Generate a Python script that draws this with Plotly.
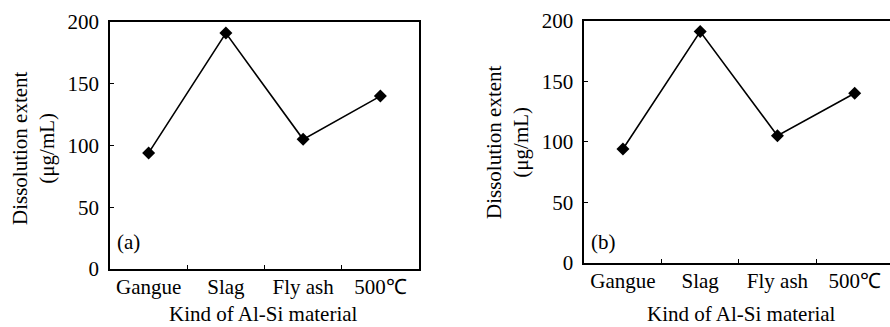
import plotly.graph_objects as go

categories = ["Gangue", "Slag", "Fly ash", "500℃"]
values_a = [94, 191, 105, 140]
values_b = [94, 191, 105, 140]
y_ticks = [0, 50, 100, 150, 200]
x_title = "Kind of Al-Si material"
y_title = "Dissolution extent<br>(μg/mL)"
panel_labels = ["(a)", "(b)"]

W, H = 890, 327
FONT = "Liberation Serif, Times New Roman, serif"
FS = 21

fig = go.Figure()
marker = dict(symbol="diamond", size=10, color="black")
line = dict(color="black", width=1.6)

fig.add_trace(go.Scatter(x=categories, y=values_a, mode="lines+markers",
                         marker=marker, line=line, xaxis="x", yaxis="y", showlegend=False))
fig.add_trace(go.Scatter(x=categories, y=values_b, mode="lines+markers",
                         marker=marker, line=line, xaxis="x2", yaxis="y2", showlegend=False))


def px_x(v):
    return v / W


def px_y(v):
    return 1 - v / H


cat_w = 77.25
right_left = 584.3
right_visible = W - right_left
right_range_max = -0.5 + right_visible / cat_w

font = dict(family=FONT, size=FS, color="black")

common_x = dict(type="category", tickson="boundaries", ticks="inside", ticklen=4,
                tickwidth=1.3, tickcolor="black", showline=True, linecolor="black",
                linewidth=1.8, showgrid=False, zeroline=False, automargin=False,
                tickfont=font, ticklabelstandoff=-2)
common_y = dict(range=[0, 200], tickvals=y_ticks, ticks="inside", ticklen=4, tickwidth=1.3,
                tickcolor="black", showline=True, linecolor="black", linewidth=1.8,
                showgrid=False, zeroline=False, automargin=False,
                tickfont=font, ticklabelstandoff=5)

annotations = [
    dict(text=panel_labels[0], xref="paper", yref="paper", x=px_x(115), y=px_y(242),
         xanchor="left", yanchor="middle", showarrow=False, font=font),
    dict(text=panel_labels[1], xref="paper", yref="paper", x=px_x(589), y=px_y(242),
         xanchor="left", yanchor="middle", showarrow=False, font=font),
    dict(text=x_title, xref="paper", yref="paper", x=px_x(263), y=px_y(314),
         xanchor="center", yanchor="middle", showarrow=False, font=font),
    dict(text=x_title, xref="paper", yref="paper", x=px_x(741), y=px_y(314),
         xanchor="center", yanchor="middle", showarrow=False, font=font),
    dict(text=y_title, xref="paper", yref="paper", x=px_x(33), y=px_y(148),
         xanchor="center", yanchor="middle", showarrow=False, font=font, textangle=-90),
    dict(text=y_title, xref="paper", yref="paper", x=px_x(507), y=px_y(142),
         xanchor="center", yanchor="middle", showarrow=False, font=font, textangle=-90),
]

fig.update_layout(
    width=W, height=H,
    margin=dict(l=0, r=0, t=0, b=0),
    paper_bgcolor="white", plot_bgcolor="white",
    xaxis=dict(common_x, domain=[px_x(110), px_x(419)], range=[-0.5, 3.5], anchor="y", mirror=True),
    yaxis=dict(common_y, domain=[px_y(269), px_y(22)], anchor="x", mirror=True),
    xaxis2=dict(common_x, domain=[px_x(right_left), 1.0], range=[-0.5, right_range_max],
                anchor="y2", mirror=True),
    yaxis2=dict(common_y, domain=[px_y(262.7), px_y(20.7)], anchor="x2", mirror=False),
    annotations=annotations,
)

fig.write_html("out.html")
